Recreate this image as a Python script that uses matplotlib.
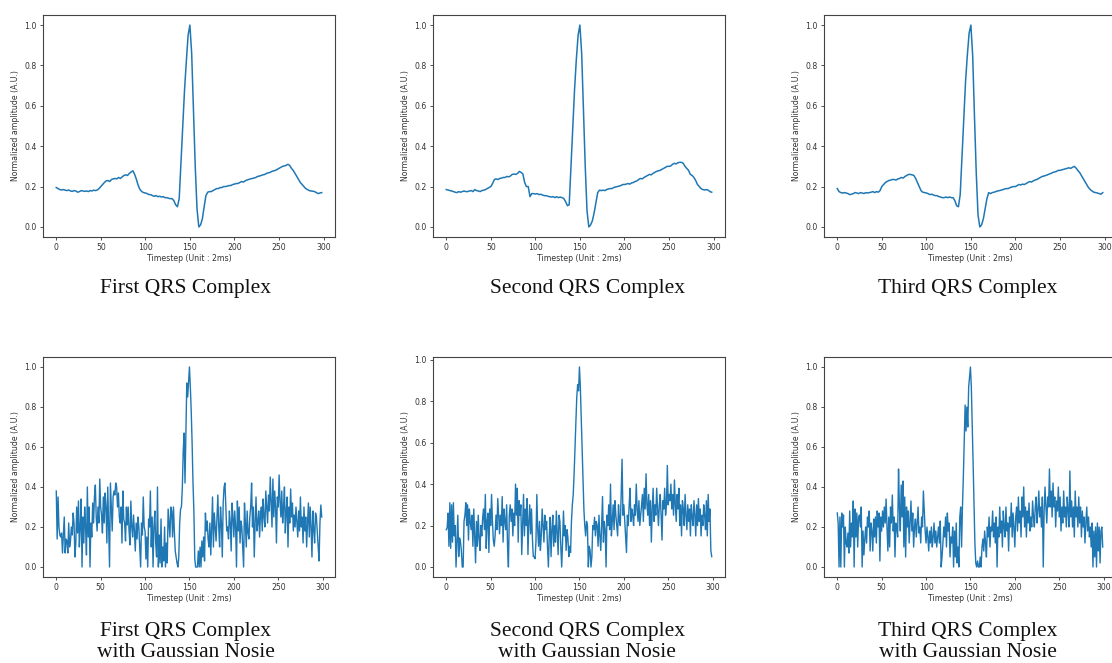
import numpy as np
import matplotlib
matplotlib.use("Agg")
import matplotlib.pyplot as plt

# ---------------- data ----------------
# clean QRS complexes, sampled every 2 timesteps (t = 0, 2, ..., 298)
clean_t = list(range(0, 300, 2))
clean_first = [
    0.195, 0.19, 0.185, 0.183, 0.185, 0.182, 0.18, 0.183, 0.178, 0.176, 0.18, 0.178, 0.172, 0.175, 0.18, 0.178, 0.176, 0.178, 0.175, 0.18, 0.178, 0.182, 0.18, 0.183, 0.19,
    0.2, 0.21, 0.22, 0.228, 0.23, 0.225, 0.235, 0.238, 0.24, 0.238, 0.245, 0.24, 0.248, 0.255, 0.258, 0.255, 0.265, 0.272, 0.278, 0.26, 0.235, 0.205, 0.185, 0.175, 0.17,
    0.168, 0.165, 0.16, 0.16, 0.155, 0.152, 0.155, 0.15, 0.152, 0.148, 0.15, 0.145, 0.145, 0.142, 0.14, 0.14, 0.13, 0.11, 0.1, 0.14, 0.32, 0.5, 0.68, 0.82, 0.95,
    1.0, 0.86, 0.58, 0.3, 0.09, 0.0, 0.01, 0.04, 0.1, 0.155, 0.172, 0.175, 0.175, 0.18, 0.185, 0.19, 0.19, 0.195, 0.195, 0.2, 0.2, 0.202, 0.205, 0.205, 0.21,
    0.212, 0.215, 0.215, 0.22, 0.225, 0.222, 0.228, 0.232, 0.235, 0.238, 0.24, 0.242, 0.245, 0.25, 0.252, 0.255, 0.258, 0.26, 0.265, 0.268, 0.27, 0.275, 0.278, 0.28, 0.285,
    0.29, 0.295, 0.3, 0.302, 0.305, 0.31, 0.305, 0.29, 0.28, 0.265, 0.25, 0.235, 0.22, 0.21, 0.2, 0.19, 0.185, 0.18, 0.178, 0.177, 0.175, 0.17, 0.165, 0.168, 0.17,
]
clean_second = [
    0.185, 0.183, 0.18, 0.178, 0.175, 0.172, 0.17, 0.175, 0.172, 0.175, 0.178, 0.175, 0.175, 0.178, 0.18, 0.175, 0.185, 0.18, 0.178, 0.175, 0.18, 0.182, 0.185, 0.19, 0.195,
    0.2, 0.215, 0.235, 0.238, 0.235, 0.24, 0.242, 0.245, 0.245, 0.25, 0.248, 0.252, 0.26, 0.262, 0.26, 0.265, 0.275, 0.27, 0.262, 0.22, 0.2, 0.2, 0.15, 0.165, 0.165,
    0.163, 0.165, 0.16, 0.162, 0.158, 0.155, 0.155, 0.152, 0.15, 0.148, 0.15, 0.145, 0.15, 0.145, 0.148, 0.145, 0.14, 0.125, 0.105, 0.11, 0.3, 0.5, 0.68, 0.83, 0.95,
    1.0, 0.86, 0.58, 0.3, 0.08, 0.0, 0.01, 0.03, 0.07, 0.12, 0.17, 0.182, 0.18, 0.182, 0.18, 0.185, 0.188, 0.19, 0.19, 0.195, 0.198, 0.2, 0.202, 0.205, 0.21,
    0.21, 0.212, 0.215, 0.212, 0.218, 0.22, 0.225, 0.228, 0.235, 0.24, 0.238, 0.245, 0.25, 0.255, 0.26, 0.258, 0.265, 0.27, 0.275, 0.278, 0.28, 0.285, 0.29, 0.295, 0.3,
    0.3, 0.302, 0.31, 0.315, 0.312, 0.318, 0.32, 0.32, 0.315, 0.3, 0.29, 0.28, 0.26, 0.255, 0.245, 0.23, 0.21, 0.2, 0.19, 0.185, 0.183, 0.185, 0.182, 0.175, 0.172,
]
clean_third = [
    0.19, 0.175, 0.17, 0.168, 0.17, 0.168, 0.165, 0.16, 0.162, 0.165, 0.17, 0.168, 0.165, 0.17, 0.168, 0.165, 0.17, 0.168, 0.17, 0.172, 0.175, 0.17, 0.175, 0.172, 0.18,
    0.2, 0.21, 0.22, 0.225, 0.23, 0.232, 0.235, 0.235, 0.232, 0.238, 0.24, 0.245, 0.242, 0.25, 0.255, 0.26, 0.26, 0.258, 0.255, 0.24, 0.22, 0.2, 0.18, 0.172, 0.17,
    0.168, 0.165, 0.16, 0.162, 0.158, 0.155, 0.155, 0.15, 0.148, 0.145, 0.145, 0.148, 0.145, 0.148, 0.145, 0.145, 0.13, 0.105, 0.1, 0.16, 0.35, 0.55, 0.72, 0.85, 0.96,
    1.0, 0.85, 0.55, 0.27, 0.06, 0.0, 0.01, 0.04, 0.09, 0.14, 0.17, 0.165, 0.17, 0.172, 0.175, 0.178, 0.18, 0.182, 0.185, 0.188, 0.19, 0.19, 0.195, 0.198, 0.2,
    0.2, 0.205, 0.21, 0.208, 0.212, 0.21, 0.215, 0.22, 0.225, 0.222, 0.228, 0.232, 0.235, 0.24, 0.245, 0.25, 0.252, 0.255, 0.258, 0.262, 0.265, 0.27, 0.272, 0.275, 0.28,
    0.28, 0.283, 0.285, 0.288, 0.29, 0.293, 0.29, 0.295, 0.3, 0.292, 0.28, 0.27, 0.255, 0.24, 0.225, 0.21, 0.195, 0.185, 0.178, 0.172, 0.17, 0.168, 0.165, 0.162, 0.17,
]

# noisy QRS complexes, every timestep (t = 0 .. 299)
noisy_t = list(range(300))
noisy_first = [
    0.38, 0.14, 0.35, 0.2, 0.16, 0.15, 0.17, 0.07, 0.16, 0.25,
    0.07, 0.14, 0.13, 0.07, 0.22, 0.1, 0.13, 0.2, 0.16, 0.27,
    0.22, 0.05, 0.12, 0.3, 0.17, 0.33, 0.1, 0.2, 0.34, 0.0,
    0.25, 0.12, 0.3, 0.2, 0.06, 0.4, 0.15, 0.3, 0.0, 0.22,
    0.15, 0.32, 0.22, 0.35, 0.41, 0.25, 0.18, 0.3, 0.22, 0.44,
    0.3, 0.26, 0.17, 0.35, 0.22, 0.37, 0.3, 0.12, 0.4, 0.2,
    0.0, 0.42, 0.3, 0.18, 0.35, 0.38, 0.36, 0.42, 0.4, 0.3,
    0.37, 0.25, 0.22, 0.3, 0.12, 0.38, 0.24, 0.22, 0.13, 0.3,
    0.21, 0.3, 0.18, 0.11, 0.33, 0.2, 0.15, 0.26, 0.18, 0.08,
    0.22, 0.14, 0.25, 0.2, 0.1, 0.0, 0.22, 0.16, 0.35, 0.2,
    0.18, 0.04, 0.15, 0.0, 0.24, 0.2, 0.38, 0.1, 0.25, 0.0,
    0.2, 0.28, 0.12, 0.05, 0.4, 0.0, 0.16, 0.02, 0.24, 0.0,
    0.1, 0.03, 0.2, 0.0, 0.12, 0.02, 0.29, 0.22, 0.15, 0.3,
    0.28, 0.15, 0.3, 0.18, 0.08, 0.05, 0.02, 0.0, 0.05, 0.22,
    0.29, 0.3, 0.4, 0.58, 0.67, 0.42, 0.66, 0.92, 0.85, 0.93,
    1.0, 0.9, 0.78, 0.62, 0.42, 0.28, 0.04, 0.0, 0.0, 0.0,
    0.08, 0.0, 0.1, 0.0, 0.13, 0.05, 0.15, 0.03, 0.27, 0.18,
    0.23, 0.14, 0.1, 0.22, 0.06, 0.19, 0.35, 0.1, 0.27, 0.2,
    0.13, 0.25, 0.36, 0.2, 0.1, 0.3, 0.22, 0.05, 0.32, 0.4,
    0.42, 0.3, 0.18, 0.2, 0.14, 0.28, 0.22, 0.08, 0.32, 0.25,
    0.15, 0.28, 0.2, 0.0, 0.33, 0.18, 0.3, 0.12, 0.23, 0.2,
    0.1, 0.0, 0.32, 0.22, 0.1, 0.28, 0.17, 0.14, 0.25, 0.3,
    0.42, 0.2, 0.3, 0.05, 0.22, 0.35, 0.18, 0.22, 0.28, 0.15,
    0.26, 0.3, 0.18, 0.34, 0.25, 0.2, 0.38, 0.3, 0.22, 0.36,
    0.28, 0.45, 0.32, 0.2, 0.44, 0.25, 0.38, 0.3, 0.12, 0.35,
    0.3, 0.46, 0.33, 0.25, 0.38, 0.22, 0.3, 0.4, 0.17, 0.28,
    0.35, 0.1, 0.3, 0.22, 0.39, 0.25, 0.32, 0.18, 0.26, 0.2,
    0.3, 0.22, 0.15, 0.28, 0.18, 0.35, 0.2, 0.25, 0.12, 0.3,
    0.18, 0.25, 0.1, 0.22, 0.32, 0.15, 0.3, 0.2, 0.05, 0.28,
    0.19, 0.12, 0.27, 0.25, 0.17, 0.1, 0.03, 0.22, 0.31, 0.25,
]
noisy_second = [
    0.18, 0.19, 0.26, 0.1, 0.31, 0.09, 0.3, 0.12, 0.31, 0.15,
    0.2, 0.0, 0.13, 0.25, 0.05, 0.14, 0.12, 0.08, 0.0, 0.0,
    0.22, 0.25, 0.31, 0.2, 0.3, 0.13, 0.28, 0.22, 0.18, 0.25,
    0.1, 0.28, 0.15, 0.02, 0.22, 0.1, 0.25, 0.14, 0.08, 0.2,
    0.15, 0.24, 0.28, 0.18, 0.35, 0.09, 0.22, 0.26, 0.07, 0.28,
    0.2, 0.35, 0.22, 0.13, 0.1, 0.15, 0.25, 0.18, 0.33, 0.24,
    0.16, 0.25, 0.2, 0.34, 0.12, 0.28, 0.22, 0.18, 0.3, 0.1,
    0.0, 0.25, 0.3, 0.22, 0.28, 0.15, 0.26, 0.2, 0.4, 0.25,
    0.38, 0.12, 0.32, 0.25, 0.3, 0.06, 0.2, 0.35, 0.15, 0.28,
    0.2, 0.33, 0.06, 0.22, 0.3, 0.16, 0.28, 0.14, 0.05, 0.05,
    0.04, 0.12, 0.35, 0.18, 0.1, 0.22, 0.08, 0.15, 0.28, 0.2,
    0.12, 0.25, 0.18, 0.22, 0.1, 0.0, 0.15, 0.24, 0.05, 0.18,
    0.25, 0.1, 0.2, 0.12, 0.27, 0.16, 0.06, 0.25, 0.22, 0.1,
    0.0, 0.12, 0.27, 0.15, 0.2, 0.08, 0.18, 0.14, 0.05, 0.1,
    0.07, 0.22, 0.3, 0.35, 0.45, 0.58, 0.7, 0.82, 0.88, 0.85,
    0.965, 0.87, 0.72, 0.58, 0.42, 0.28, 0.2, 0.15, 0.22, 0.2,
    0.0, 0.1, 0.08, 0.0, 0.05, 0.2, 0.18, 0.24, 0.15, 0.22,
    0.2, 0.1, 0.25, 0.15, 0.08, 0.2, 0.34, 0.12, 0.22, 0.18,
    0.0, 0.25, 0.2, 0.3, 0.18, 0.4, 0.15, 0.22, 0.3, 0.18,
    0.32, 0.25, 0.2, 0.15, 0.3, 0.22, 0.2, 0.35, 0.52, 0.25,
    0.3, 0.22, 0.15, 0.07, 0.25, 0.2, 0.3, 0.38, 0.22, 0.28,
    0.25, 0.2, 0.3, 0.25, 0.4, 0.28, 0.22, 0.32, 0.2, 0.25,
    0.3, 0.35, 0.22, 0.38, 0.28, 0.45, 0.3, 0.25, 0.35, 0.2,
    0.32, 0.12, 0.28, 0.38, 0.22, 0.3, 0.25, 0.38, 0.28, 0.2,
    0.3, 0.35, 0.25, 0.13, 0.32, 0.28, 0.38, 0.25, 0.3, 0.49,
    0.3, 0.35, 0.32, 0.4, 0.28, 0.35, 0.25, 0.42, 0.3, 0.22,
    0.35, 0.28, 0.38, 0.2, 0.3, 0.15, 0.32, 0.28, 0.2, 0.35,
    0.25, 0.18, 0.3, 0.22, 0.28, 0.15, 0.3, 0.24, 0.2, 0.32,
    0.25, 0.15, 0.3, 0.2, 0.33, 0.22, 0.28, 0.15, 0.25, 0.2,
    0.3, 0.25, 0.18, 0.32, 0.15, 0.35, 0.22, 0.28, 0.08, 0.05,
]
noisy_third = [
    0.27, 0.22, 0.0, 0.25, 0.0, 0.27, 0.2, 0.26, 0.0, 0.2,
    0.12, 0.1, 0.17, 0.07, 0.28, 0.1, 0.22, 0.15, 0.33, 0.0,
    0.29, 0.15, 0.27, 0.1, 0.25, 0.26, 0.2, 0.3, 0.0, 0.18,
    0.06, 0.14, 0.2, 0.12, 0.25, 0.2, 0.28, 0.08, 0.22, 0.18,
    0.08, 0.24, 0.15, 0.25, 0.12, 0.28, 0.2, 0.27, 0.03, 0.25,
    0.18, 0.28, 0.2, 0.3, 0.22, 0.34, 0.2, 0.08, 0.25, 0.1,
    0.3, 0.22, 0.36, 0.18, 0.25, 0.05, 0.22, 0.2, 0.15, 0.49,
    0.3, 0.18, 0.41, 0.25, 0.43, 0.1, 0.35, 0.05, 0.3, 0.2,
    0.28, 0.12, 0.22, 0.33, 0.18, 0.27, 0.1, 0.2, 0.24, 0.15,
    0.22, 0.3, 0.17, 0.2, 0.12, 0.25, 0.2, 0.38, 0.28, 0.18,
    0.12, 0.2, 0.15, 0.08, 0.18, 0.12, 0.2, 0.1, 0.15, 0.22,
    0.12, 0.18, 0.1, 0.15, 0.2, 0.12, 0.23, 0.0, 0.05, 0.12,
    0.2, 0.15, 0.25, 0.1, 0.27, 0.18, 0.22, 0.05, 0.15, 0.12,
    0.2, 0.0, 0.18, 0.05, 0.22, 0.02, 0.1, 0.0, 0.25, 0.3,
    0.1, 0.3, 0.45, 0.62, 0.81, 0.68, 0.8, 0.7, 0.9, 0.95,
    1.0, 0.9, 0.72, 0.52, 0.32, 0.12, 0.02, 0.0, 0.03, 0.0,
    0.0, 0.05, 0.0, 0.1, 0.14, 0.08, 0.18, 0.12, 0.05, 0.2,
    0.15, 0.25, 0.1, 0.2, 0.18, 0.28, 0.15, 0.22, 0.12, 0.25,
    0.0, 0.2, 0.15, 0.3, 0.17, 0.23, 0.1, 0.28, 0.2, 0.15,
    0.3, 0.18, 0.22, 0.08, 0.25, 0.2, 0.32, 0.15, 0.27, 0.2,
    0.1, 0.25, 0.3, 0.18, 0.35, 0.22, 0.28, 0.15, 0.35, 0.25,
    0.4, 0.2, 0.3, 0.15, 0.28, 0.22, 0.32, 0.18, 0.25, 0.2,
    0.33, 0.25, 0.2, 0.3, 0.35, 0.22, 0.28, 0.38, 0.25, 0.3,
    0.2, 0.35, 0.0, 0.28, 0.4, 0.3, 0.22, 0.35, 0.3, 0.49,
    0.3, 0.38, 0.25, 0.42, 0.3, 0.35, 0.2, 0.33, 0.28, 0.4,
    0.25, 0.35, 0.18, 0.3, 0.22, 0.38, 0.25, 0.3, 0.2, 0.35,
    0.28, 0.2, 0.48, 0.25, 0.33, 0.2, 0.3, 0.15, 0.38, 0.25,
    0.3, 0.2, 0.35, 0.22, 0.3, 0.15, 0.28, 0.2, 0.25, 0.12,
    0.22, 0.3, 0.18, 0.25, 0.15, 0.2, 0.1, 0.22, 0.0, 0.18,
    0.05, 0.2, 0.0, 0.22, 0.08, 0.2, 0.02, 0.18, 0.2, 0.1,
]

captions_top = ["First QRS Complex", "Second QRS Complex", "Third QRS Complex"]
captions_bottom = ["First QRS Complex\nwith Gaussian Nosie",
                   "Second QRS Complex\nwith Gaussian Nosie",
                   "Third QRS Complex\nwith Gaussian Nosie"]
xlabel = "Timestep (Unit : 2ms)"
ylabel = "Normalized amplitude (A.U.)"

# ---------------- figure ----------------
W, H = 1112, 663
fig = plt.figure(figsize=(W / 100, H / 100), dpi=100)

col_left = [43, 433, 824]
ax_w = 292
rows = [(15, 237), (357, 577)]
caption_x = [186, 587, 968]

series_top = [clean_first, clean_second, clean_third]
series_bot = [noisy_first, noisy_second, noisy_third]

for r, (top, bot) in enumerate(rows):
    for c in range(3):
        ax = fig.add_axes([col_left[c] / W, 1 - bot / H, ax_w / W, (bot - top) / H])
        if r == 0:
            ax.plot(clean_t, series_top[c], color="#1f77b4", lw=1.1)
        else:
            ax.plot(noisy_t, series_bot[c], color="#1f77b4", lw=1.0)
        ax.set_xticks([0, 50, 100, 150, 200, 250, 300])
        ax.set_yticks([0.0, 0.2, 0.4, 0.6, 0.8, 1.0])
        ax.tick_params(labelsize=5.6, length=2.5, width=0.6, pad=2, colors="#333333")
        ax.set_xlabel(xlabel, fontsize=5.6, labelpad=1, color="#333333")
        ax.set_ylabel(ylabel, fontsize=5.6, labelpad=3, color="#333333")
        for s in ax.spines.values():
            s.set_linewidth(0.8)
            s.set_color("#444444")

for c in range(3):
    fig.text(caption_x[c] / W, 1 - 289 / H, captions_top[c], ha="center", va="center",
             fontsize=15.5, family="Liberation Serif", color="#111111")
    fig.text(caption_x[c] / W, 1 - 642 / H, captions_bottom[c], ha="center", va="center",
             fontsize=15.5, family="Liberation Serif", color="#111111", linespacing=1.1)

fig.savefig("out.png", dpi=100)
